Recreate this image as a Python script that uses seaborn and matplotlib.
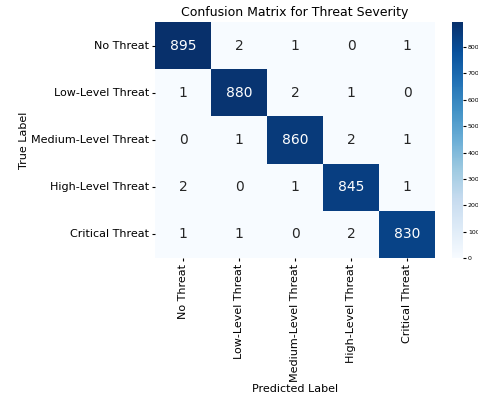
import numpy as np
import matplotlib
matplotlib.use("Agg")
import matplotlib.pyplot as plt
import seaborn as sns

classes = ["No Threat", "Low-Level Threat", "Medium-Level Threat",
           "High-Level Threat", "Critical Threat"]
row_no_threat = [895, 2, 1, 0, 1]
row_low = [1, 880, 2, 1, 0]
row_medium = [0, 1, 860, 2, 1]
row_high = [2, 0, 1, 845, 1]
row_critical = [1, 1, 0, 2, 830]

cm = np.array([row_no_threat, row_low, row_medium, row_high, row_critical])

fig = plt.figure(figsize=(4.78, 4.01), dpi=100)
ax = fig.add_axes([155 / 478, 1 - 258 / 401, 280 / 478, 236 / 401])
cax = fig.add_axes([452 / 478, 1 - 258 / 401, 11 / 478, 236 / 401])

sns.heatmap(cm, annot=True, fmt="d", cmap="Blues", ax=ax, cbar_ax=cax,
            xticklabels=classes, yticklabels=classes,
            annot_kws={"fontsize": 10})

ax.set_title("Confusion Matrix for Threat Severity", fontsize=9, pad=4)
ax.set_xlabel("Predicted Label", fontsize=8, labelpad=2)
ax.set_ylabel("True Label", fontsize=8, labelpad=2)
ax.tick_params(axis="x", labelsize=8, rotation=90, length=2.5, pad=1.5)
ax.tick_params(axis="y", labelsize=8, rotation=0, length=2.5, pad=1.5)
cax.tick_params(labelsize=4.5, length=2, pad=1.5)

fig.savefig("out.png", dpi=100)
